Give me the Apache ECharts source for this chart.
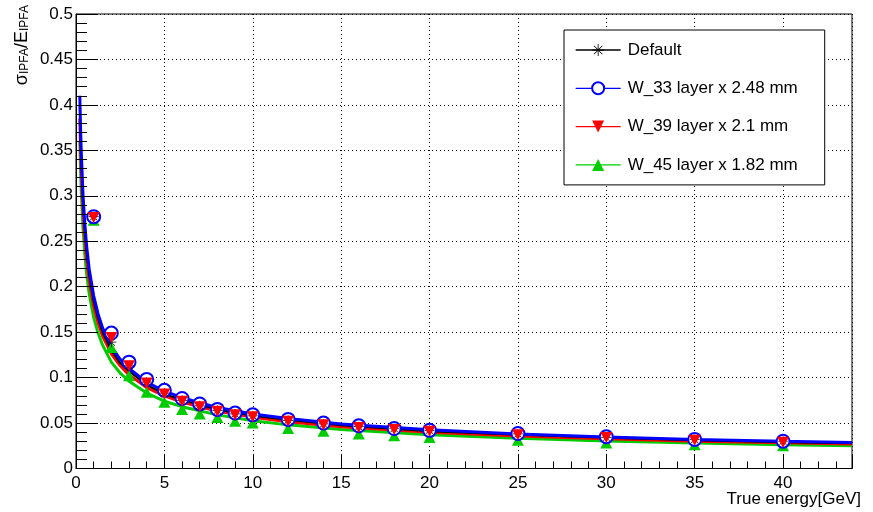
<!DOCTYPE html>
<html>
<head>
<meta charset="utf-8">
<script src="https://cdn.jsdelivr.net/npm/echarts@6/dist/echarts.min.js"></script>
<style>
  html, body { margin: 0; padding: 0; background: #fff; }
  #chart { width: 873px; height: 512px; }
  #ticks { position: absolute; left: 0; top: 0; width: 873px; height: 512px; pointer-events: none; }
</style>
</head>
<body>
<div id="chart"></div>
<div id="ticks"></div>
<script>
// measured points
const energies = [1, 2, 3, 4, 5, 6, 7, 8, 9, 10, 12, 14, 16, 18, 20, 25, 30, 35, 40];
const defaultPts = [0.277, 0.139, 0.113, 0.095, 0.083, 0.075, 0.069, 0.064, 0.060, 0.058, 0.053, 0.049, 0.046, 0.044, 0.042, 0.038, 0.034, 0.032, 0.030];
const w33Pts = [0.277, 0.149, 0.117, 0.098, 0.086, 0.077, 0.071, 0.065, 0.061, 0.059, 0.054, 0.050, 0.047, 0.044, 0.042, 0.0385, 0.035, 0.032, 0.030];
const w39Pts = [0.276, 0.144, 0.113, 0.094, 0.082, 0.074, 0.068, 0.063, 0.059, 0.057, 0.052, 0.048, 0.045, 0.043, 0.041, 0.037, 0.034, 0.031, 0.029];
const w45Pts = [0.273, 0.133, 0.102, 0.084, 0.073, 0.065, 0.060, 0.056, 0.052, 0.050, 0.044, 0.041, 0.038, 0.036, 0.034, 0.031, 0.028, 0.026, 0.025];

// fit curves
const fitE = [0.215, 0.25, 0.3, 0.4, 0.5, 0.6, 0.75, 1, 1.25, 1.5, 2, 2.5, 3, 4, 5, 6, 8, 10, 12, 15, 20, 25, 30, 35, 40, 43.9];
const defaultFit = [0.398, 0.369, 0.337, 0.291, 0.261, 0.238, 0.212, 0.184, 0.165, 0.150, 0.130, 0.116, 0.107, 0.092, 0.082, 0.0755, 0.065, 0.058, 0.0535, 0.0475, 0.041, 0.037, 0.0337, 0.031, 0.029, 0.0278];
const w33Fit = [0.41, 0.38, 0.347, 0.30, 0.269, 0.245, 0.219, 0.19, 0.170, 0.155, 0.134, 0.120, 0.110, 0.095, 0.085, 0.078, 0.067, 0.060, 0.055, 0.049, 0.0425, 0.038, 0.0347, 0.032, 0.030, 0.0287];
const w39Fit = [0.385, 0.357, 0.326, 0.282, 0.253, 0.230, 0.206, 0.179, 0.160, 0.146, 0.126, 0.113, 0.103, 0.089, 0.080, 0.073, 0.063, 0.0565, 0.0515, 0.046, 0.040, 0.0357, 0.0326, 0.030, 0.0282, 0.027];
const w45Fit = [0.36, 0.333, 0.304, 0.263, 0.235, 0.214, 0.192, 0.166, 0.149, 0.136, 0.117, 0.105, 0.096, 0.083, 0.074, 0.068, 0.059, 0.0525, 0.048, 0.043, 0.037, 0.0333, 0.0303, 0.028, 0.0262, 0.025];

const names = ['Default', 'W_33 layer x 2.48 mm', 'W_39 layer x 2.1 mm', 'W_45 layer x 1.82 mm'];

const FONT = '"Liberation Sans", Arial, Helvetica, sans-serif';
const starPath = 'path://M-0.07,-1L0.07,-1L0.07,1L-0.07,1Z M-1,-0.07L1,-0.07L1,0.07L-1,0.07Z M-0.66,-0.75L0.75,0.66L0.66,0.75L-0.75,-0.66Z M-0.66,0.75L0.75,-0.66L0.66,-0.75L-0.75,0.66Z';

const pair = (xs, ys) => xs.map((x, i) => [x, ys[i]]);

function curve(name, ys, color, width, symbol, rotate) {
  return {
    name, type: 'line', data: pair(fitE, ys), showSymbol: false, symbol, symbolRotate: rotate,
    smooth: false, lineStyle: {color, width}, itemStyle: {color}
  };
}
// marker-only line series (no connecting line)
function markers(name, ys, color, symbol, size, rotate, style) {
  return {
    name, type: 'line', data: pair(energies, ys), symbol, symbolSize: size, symbolRotate: rotate,
    showSymbol: true, showAllSymbol: true, lineStyle: {width: 0, opacity: 0},
    itemStyle: style || {color}
  };
}

const tickLine = {color: '#000', width: 1};
const gridBox = {left: 76, right: 21, top: 14, bottom: 43.5, outerBoundsMode: 'none'};

const chart = echarts.init(document.getElementById('chart'), null, {renderer: 'canvas'});
chart.setOption({
  animation: false,
  grid: Object.assign({show: true, borderColor: '#000', borderWidth: 1, backgroundColor: 'transparent'}, gridBox),
  legend: {
    data: names, orient: 'vertical', left: 564, top: 30,
    padding: [10, 27, 10, 11], itemGap: 18.3, itemWidth: 45, itemHeight: 15,
    borderColor: '#000', borderWidth: 1, backgroundColor: '#fff',
    lineStyle: {width: 1.3}, selectedMode: false,
    textStyle: {fontSize: 17, color: '#000', fontFamily: FONT, lineHeight: 20, padding: [0, 0, 0, 2]}
  },
  xAxis: {
    type: 'value', min: 0, max: 43.9, interval: 5, position: 'bottom',
    axisLine: {show: true, onZero: false, lineStyle: tickLine},
    axisTick: {show: true, inside: true, length: 14, lineStyle: tickLine},
    axisLabel: {fontSize: 17, color: '#000', fontFamily: FONT, margin: 6, showMaxLabel: false},
    splitLine: {show: true, lineStyle: {color: '#000', type: [1, 3], width: 1}}
  },
  yAxis: {
    type: 'value', min: 0, max: 0.5, interval: 0.05,
    axisLine: {show: true, onZero: false, lineStyle: tickLine},
    axisTick: {show: true, inside: true, length: 22, lineStyle: tickLine},
    minorTick: {show: true, splitNumber: 5, length: 11, lineStyle: tickLine},
    axisLabel: {fontSize: 17, color: '#000', fontFamily: FONT, margin: 3},
    splitLine: {show: true, lineStyle: {color: '#000', type: [1, 3], width: 1}}
  },
  graphic: [{
    type: 'text', x: 19, y: 5, rotation: Math.PI / 2, silent: true,
    style: {
      text: '{m|σ}{s|IPFA}{m|/E}{s|IPFA}', align: 'right', verticalAlign: 'middle',
      rich: {
        m: {fontSize: 18, fontFamily: FONT, fill: '#000', lineHeight: 24, verticalAlign: 'bottom'},
        s: {fontSize: 12, fontFamily: FONT, fill: '#000', lineHeight: 12, verticalAlign: 'bottom'}
      }
    }
  }, {
    type: 'text', x: 861, y: 499, silent: true,
    style: {text: 'True energy[GeV]', align: 'right', verticalAlign: 'middle', fontSize: 17, fontFamily: FONT, fill: '#000'}
  }],
  series: [
    curve(names[3], w45Fit, '#00cc00', 3, 'triangle', 0),
    curve(names[2], w39Fit, '#ff0000', 3, 'triangle', 180),
    curve(names[0], defaultFit, '#000000', 2, starPath, 0),
    curve(names[1], w33Fit, '#0000ff', 3, 'emptyCircle', 0),
    markers('w45 points', w45Pts, '#00cc00', 'triangle', [12, 11], 0),
    markers('w33 points', w33Pts, '#0000ff', 'emptyCircle', 13, 0, {color: '#0000ff', borderWidth: 1.5}),
    markers('default points', defaultPts, '#000000', starPath, 10, 0),
    markers('w39 points', w39Pts, '#ff0000', 'triangle', [12, 11], 180)
  ]
});

// tick marks on a transparent overlay with the same grid
const ticks = echarts.init(document.getElementById('ticks'), null, {renderer: 'canvas'});
ticks.setOption({
  animation: false,
  backgroundColor: 'transparent',
  grid: Object.assign({show: false}, gridBox),
  xAxis: [{
    type: 'value', min: 0, max: 43.9, interval: 5, position: 'bottom',
    axisLine: {show: false, onZero: false}, axisLabel: {show: false}, splitLine: {show: false},
    axisTick: {show: true, inside: true, length: 14, lineStyle: tickLine}
  }, {
    type: 'value', min: 0, max: 43.9, interval: 1, position: 'bottom',
    axisLine: {show: false, onZero: false}, axisLabel: {show: false}, splitLine: {show: false},
    axisTick: {show: true, inside: true, length: 7, lineStyle: tickLine}
  }],
  yAxis: {
    type: 'value', min: 0, max: 0.5, interval: 0.05,
    axisLine: {show: false, onZero: false}, axisLabel: {show: false}, splitLine: {show: false},
    axisTick: {show: true, inside: true, length: 22, lineStyle: tickLine},
    minorTick: {show: true, splitNumber: 5, length: 11, lineStyle: tickLine}
  },
  series: []
});
</script>
</body>
</html>
